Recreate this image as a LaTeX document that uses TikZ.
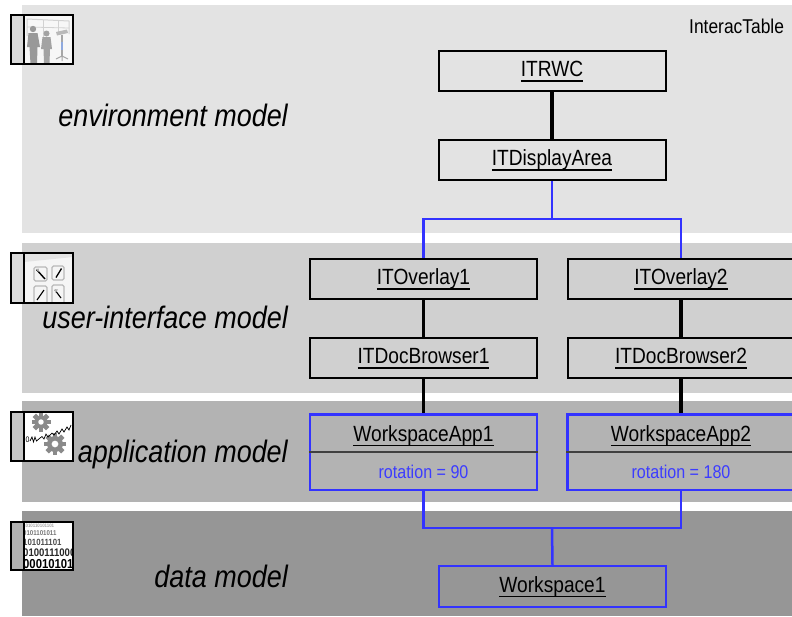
\documentclass[tikz,border=0pt]{standalone}
\usepackage{fontspec}
\setmainfont[FakeStretch=0.87]{Liberation Sans}
\usetikzlibrary{calc}

\definecolor{bandA}{HTML}{E3E3E3}
\definecolor{bandB}{HTML}{D0D0D0}
\definecolor{bandC}{HTML}{B3B3B3}
\definecolor{bandD}{HTML}{969696}
\definecolor{linkblue}{HTML}{3333FF}
\definecolor{attrblue}{HTML}{3C3CFF}
\definecolor{divgray}{HTML}{404040}
\definecolor{icongray}{HTML}{8A8A8A}

% underlined class name with a fixed rule below the baseline
\newcommand\ulx[1]{\setbox0\hbox{#1}\rlap{\rule[-5pt]{\wd0}{1.5pt}}\box0}

\begin{document}
\begin{tikzpicture}[x=1pt,y=-1pt,line join=miter,
  classbox/.style={draw=black,line width=2pt,minimum width=227pt,minimum height=40pt,
    inner sep=0pt,font=\fontsize{22}{24}\selectfont,text height=16pt,text depth=5pt},
  appbox/.style={draw=linkblue,line width=2.5pt,minimum width=227pt,minimum height=75.5pt,inner sep=0pt},
  databox/.style={draw=linkblue,line width=2.5pt,minimum width=227pt,minimum height=41pt,
    inner sep=0pt,font=\fontsize{22}{24}\selectfont,text height=16pt,text depth=5pt},
  nametext/.style={anchor=base,inner sep=0pt,font=\fontsize{22}{24}\selectfont},
  attrtext/.style={anchor=base,inner sep=0pt,text=attrblue,font=\fontsize{18.5}{20}\selectfont},
  layerlabel/.style={anchor=base east,inner sep=0pt,font=\fontsize{31}{34}\selectfont\itshape},
  blacklink/.style={draw=black,line width=3.5pt},
  bluelink/.style={draw=linkblue,line width=2.5pt},
  iconframe/.style={draw=black,line width=1.1pt},
]
\useasboundingbox (0,0) rectangle (792,616);
\fill[white] (0,0) rectangle (792,616);

% layer bands
\fill[bandA] (22,5) rectangle (792,233);
\fill[bandB] (22,243) rectangle (792,393);
\fill[bandC] (22,401) rectangle (792,502);
\fill[bandD] (22,511) rectangle (792,616);

% ---------- layer icons ----------
% environment icon: room with two people and a display stand
\fill[white!94!gray] (24,15) rectangle (73,64);
\fill[gray!30] (11,15) rectangle (24,64);
\begin{scope}
  \clip (24,15) rectangle (73,64);
  \draw[gray!35,line width=1pt] (27,36) -- (27,19) -- (69,21) -- (69,34);
  \draw[gray!35,line width=0.8pt] (27,27) -- (69,28);
  \draw[gray!35,line width=0.8pt] (43,19.8) -- (43,40) (58,20.5) -- (58,34);
  \fill[gray!80] (33,29) circle (3.2);
  \fill[gray!80] (28.5,33) -- (37.5,33) -- (40,47) -- (37.5,47) -- (37,64) -- (30.5,64) -- (29.5,47) -- (27,47) -- cycle;
  \fill[gray!72] (46.5,33.5) circle (3);
  \fill[gray!72] (42.5,37) -- (50.5,37) -- (52,49) -- (50,49) -- (49.5,63) -- (44,63) -- (43.5,49) -- (41,49) -- cycle;
  \fill[gray!55] (56,32) -- (67,29.5) -- (68,33) -- (57,35.5) -- cycle;
  \draw[gray!70,line width=1.5pt] (62,35) -- (62,56);
  \fill[cyan!45!blue!45] (61,42) rectangle (63.2,50);
  \draw[gray!70,line width=1pt] (56,59) -- (62,56) -- (68,59) (62,56) -- (62,61);
\end{scope}
\draw[iconframe] (11,15) rectangle (73,64);
\draw[iconframe] (24,15) -- (24,64);

% user-interface icon: tool tiles
\fill[white!92!gray] (24,253) rectangle (73,303);
\fill[gray!28] (11,253) rectangle (24,303);
\begin{scope}
  \clip (24,253) rectangle (73,303);
  \fill[gray!22] (24,253) -- (73,253) -- (73,257) -- (24,262) -- cycle;
  \draw[gray!55,line width=1.3pt,rounded corners=1.5pt] (34,267) rectangle (47,281);
  \draw[gray!55,line width=1.3pt,rounded corners=1.5pt] (52,266) rectangle (64,280);
  \draw[gray!55,line width=1.3pt,rounded corners=1.5pt] (34,286) rectangle (47,305);
  \draw[gray!55,line width=1.3pt,rounded corners=1.5pt] (52,285) rectangle (64,305);
  \draw[black,line width=1.4pt] (36.5,269.5) -- (45,279);
  \fill[gray!60] (36,269) -- (39,268.5) -- (38.5,272) -- cycle;
  \draw[black,line width=1.3pt] (56,277.5) -- (61.5,268.5);
  \draw[black,line width=1.1pt] (37,300) -- (44,290);
  \draw[black,line width=1.1pt] (55,290) -- (61,298);
  \fill[gray!60] (54.5,289) -- (58,289.5) -- (55.5,293) -- cycle;
\end{scope}
\draw[iconframe] (11,253) rectangle (73,303);
\draw[iconframe] (24,253) -- (24,303);

% application icon: two gears
\fill[white] (24,412) rectangle (73,461);
\fill[gray!45] (11,412) rectangle (24,461);
\begin{scope}
  \clip (24,412) rectangle (73,461);
  \foreach \cx/\cy/\r in {41/422/6.5,55/444/8} {
    \fill[icongray] (\cx,\cy) circle (\r);
    \foreach \a in {0,45,...,315}
      \fill[icongray,shift={(\cx,\cy)},rotate=\a] (-2.4,\r-1) rectangle (2.4,\r+3);
    \fill[white] (\cx,\cy) circle (\r*0.42);
  }
  \draw[black,line width=0.7pt] (30,441) -- (32,437) -- (33.5,442) -- (35,437) -- (36.5,441)
    -- (40,438) -- (42,436.5) -- (44,439) -- (46,434) -- (48,437) -- (52,433) -- (54,435)
    -- (57,431) -- (59,434) -- (62,429) -- (64,432) -- (67,427) -- (69,430) -- (71,425);
  \node[inner sep=0pt,font=\fontsize{8}{8}\selectfont] (gearzero) at (27.5,440) {0};
\end{scope}
\draw[iconframe] (11,412) rectangle (73,461);
\draw[iconframe] (24,412) -- (24,461);

% data icon: rows of binary digits growing towards the viewer
\fill[white] (24,522) rectangle (73,570);
\fill[gray!60] (11,522) rectangle (24,570);
\begin{scope}
  \clip (24,522) rectangle (73,570);
  \foreach \yy/\sz/\txt/\shade in {
      527/5/1010110101101/35,
      535/7/0101101011/55,
      545/9/101011101/70,
      556/11/01001110000/85,
      568/13/00010101010/100} {
    \node[anchor=base west,inner sep=0pt,text=black!\shade,
      font=\fontsize{\sz}{\sz}\selectfont\bfseries] at (23,\yy) {\txt};
  }
\end{scope}
\draw[iconframe] (11,522) rectangle (73,570);
\draw[iconframe] (24,522) -- (24,570);

% ---------- layer labels ----------
\node[layerlabel] (envlabel) at (288,126) {environment model};
\node[layerlabel] (uilabel) at (288,328) {user-interface model};
\node[layerlabel] (applabel) at (288,462) {application model};
\node[layerlabel] (datalabel) at (288,587) {data model};
\node[anchor=base west,inner sep=0pt,font=\fontsize{20}{22}\selectfont] (tablelabel) at (689,33) {InteracTable};

% ---------- model objects ----------
\node[classbox] (rwc) at (552,71) {\ulx{ITRWC}};
\node[classbox] (da) at (552,160) {\ulx{ITDisplayArea}};
\node[classbox] (ov1) at (423.5,279) {\ulx{ITOverlay1}};
\node[classbox] (ov2) at (681,279) {\ulx{ITOverlay2}};
\node[classbox] (db1) at (423.5,358) {\ulx{ITDocBrowser1}};
\node[classbox] (db2) at (681,358) {\ulx{ITDocBrowser2}};

\node[appbox] (wa1) at (423.5,452) {};
\node[appbox] (wa2) at (681,452) {};
\draw[divgray,line width=1.5pt] (wa1.west) -- (wa1.east);
\draw[divgray,line width=1.5pt] (wa2.west) -- (wa2.east);
\node[nametext] (wa1name) at (423.5,441) {\ulx{WorkspaceApp1}};
\node[attrtext] (wa1attr) at (423.5,478) {rotation = 90};
\node[nametext] (wa2name) at (681,441) {\ulx{WorkspaceApp2}};
\node[attrtext] (wa2attr) at (681,478) {rotation = 180};

\node[databox] (ws) at (552.5,586.5) {\ulx{Workspace1}};

% ---------- connectors ----------
\coordinate (topjoin) at (552,219);
\coordinate (botjoin) at (552,528);

\draw[blacklink] (rwc.south) -- (da.north);
\draw[bluelink] (da.south) -- (topjoin);
\draw[bluelink] (ov1.north) |- (topjoin) -| (ov2.north);
\draw[blacklink] (ov1.south) -- (db1.north);
\draw[blacklink] (ov2.south) -- (db2.north);
\draw[blacklink] (db1.south) -- (wa1.north);
\draw[blacklink] (db2.south) -- (wa2.north);
\draw[bluelink] (wa1.south) |- (botjoin) -| (wa2.south);
\draw[bluelink] (ws.north) -- (botjoin);
\end{tikzpicture}
\end{document}
